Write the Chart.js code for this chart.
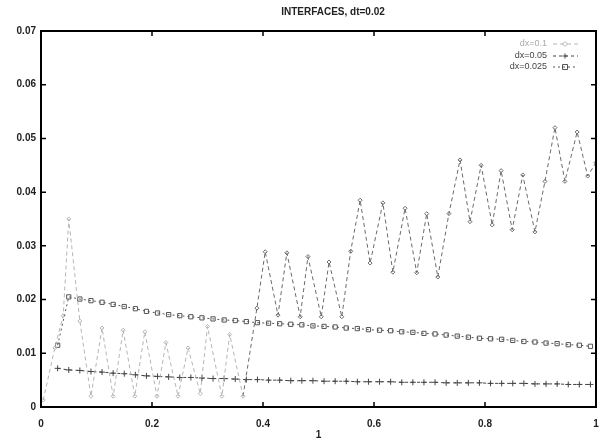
<!DOCTYPE html>
<html lang="en">
<head>
  <meta charset="UTF-8" />
  <title>INTERFACES, dt=0.02</title>
  <script src="https://cdn.jsdelivr.net/npm/chart.js"></script>
</head>
<body style="margin: 0; padding: 0; background: #fff;">
  <canvas id="chart" width="601" height="441" style="display: block;"></canvas>

  <script>
    // data
    const seriesNames = ['dx=0.1', 'dx=0.05', 'dx=0.025'];

    // dx=0.1 : irregular sawtooth, own x positions
    const coarseX = [0.004, 0.025, 0.04, 0.05, 0.07, 0.09, 0.11, 0.13, 0.148, 0.169, 0.187, 0.209, 0.225, 0.247, 0.265, 0.287, 0.30, 0.326, 0.34, 0.364,
      0.389, 0.404, 0.427, 0.443, 0.467, 0.481, 0.505, 0.519, 0.542, 0.558,
      0.575, 0.593, 0.616, 0.634, 0.656, 0.677, 0.695, 0.715, 0.735,
      0.755, 0.773, 0.793, 0.813, 0.829, 0.849, 0.868, 0.89, 0.908,
      0.926, 0.944, 0.966, 0.985, 1.0];
    const coarseY = [0.0013, 0.011, 0.017, 0.035, 0.016, 0.002, 0.0147, 0.002, 0.0143, 0.002, 0.014, 0.002, 0.012, 0.002, 0.011, 0.0025, 0.015, 0.002, 0.0135, 0.002,
      0.0184, 0.0289, 0.0171, 0.0287, 0.0168, 0.028, 0.0168, 0.027, 0.0168, 0.029,
      0.0385, 0.0268, 0.038, 0.0251, 0.037, 0.025, 0.036, 0.0242, 0.036,
      0.046, 0.0345, 0.045, 0.0339, 0.044, 0.033, 0.0432, 0.0326, 0.042,
      0.052, 0.042, 0.0512, 0.043, 0.0455];

    // dx=0.05 and dx=0.025 share these x positions
    const fineX = [0.03, 0.05, 0.07, 0.09, 0.11, 0.13, 0.15, 0.17, 0.19, 0.21, 0.23, 0.25, 0.27, 0.29, 0.31, 0.33, 0.35, 0.37, 0.39, 0.41,
      0.43, 0.45, 0.47, 0.49, 0.51, 0.53, 0.55, 0.57, 0.59, 0.61, 0.63, 0.65, 0.67, 0.69, 0.71, 0.73, 0.75, 0.77, 0.79, 0.81,
      0.83, 0.85, 0.87, 0.89, 0.91, 0.93, 0.95, 0.97, 0.99];
    const midY = [0.0072, 0.0069, 0.0068, 0.0066, 0.0065, 0.0063, 0.0062, 0.0060, 0.0058, 0.0057, 0.0056, 0.0055, 0.0055, 0.0054, 0.0053, 0.0053, 0.0052, 0.0051, 0.0051, 0.0050,
      0.0050, 0.0049, 0.0049, 0.0049, 0.0048, 0.0048, 0.0048, 0.0047, 0.0047, 0.0047, 0.0047, 0.0046, 0.0046, 0.0046, 0.0046, 0.0045, 0.0045, 0.0045, 0.0045, 0.0044,
      0.0044, 0.0044, 0.0044, 0.0043, 0.0043, 0.0043, 0.0042, 0.0042, 0.0042];
    const fineY = [0.0115, 0.0205, 0.0201, 0.0198, 0.0195, 0.0191, 0.0187, 0.0183, 0.0178, 0.0175, 0.0172, 0.0170, 0.0168, 0.0166, 0.0164, 0.0162, 0.0161, 0.0159, 0.0157, 0.0156,
      0.0155, 0.0154, 0.0153, 0.0151, 0.0150, 0.0149, 0.0147, 0.0146, 0.0144, 0.0143, 0.0142, 0.0140, 0.0139, 0.0137, 0.0136, 0.0134, 0.0132, 0.0130, 0.0128, 0.0127,
      0.0126, 0.0124, 0.0122, 0.0121, 0.0119, 0.0118, 0.0116, 0.0115, 0.0113];

    const xTickLabels = ['0', '0.2', '0.4', '0.6', '0.8', '1'];
    const yTickLabels = ['0', '0.01', '0.02', '0.03', '0.04', '0.05', '0.06', '0.07'];

    const pts = (xs, ys) => xs.map((x, i) => ({ x: x, y: ys[i] }));

    const styles = [
      { color: '#6a6a6a', dash: [4, 3], point: 'rectRot', radius: 2 },
      { color: '#444', dash: [3, 3], point: 'cross', radius: 3 },
      { color: '#555', dash: [2, 3], point: 'rect', radius: 3 }
    ];
    // the early part of the coarse curve is very faint in the scan
    const faint = '#b5b5b5';

    // gnuplot-ish frame, inward ticks, title and key
    const gnuplotFrame = {
      id: 'gnuplotFrame',
      afterDatasetsDraw(chart) {
        const ctx = chart.ctx;
        const a = chart.chartArea;
        const xs = chart.scales.x, ys = chart.scales.y;
        ctx.save();
        ctx.strokeStyle = '#000';
        ctx.lineWidth = 1.5;
        ctx.beginPath();
        xs.ticks.forEach(t => {
          const px = xs.getPixelForValue(t.value);
          ctx.moveTo(px, a.bottom); ctx.lineTo(px, a.bottom - 5);
          ctx.moveTo(px, a.top); ctx.lineTo(px, a.top + 5);
        });
        ys.ticks.forEach(t => {
          const py = ys.getPixelForValue(t.value);
          ctx.moveTo(a.left, py); ctx.lineTo(a.left + 5, py);
          ctx.moveTo(a.right, py); ctx.lineTo(a.right - 5, py);
        });
        ctx.stroke();
        ctx.lineWidth = 2;
        ctx.strokeRect(a.left, a.top, a.right - a.left, a.bottom - a.top);

        ctx.fillStyle = '#222';
        ctx.font = 'bold 10px "Liberation Sans", Arial, sans-serif';
        ctx.textAlign = 'center';
        ctx.textBaseline = 'middle';
        ctx.fillText('INTERFACES, dt=0.02', 333, 12);

        // key
        ctx.font = '9px "Liberation Sans", Arial, sans-serif';
        ctx.textAlign = 'right';
        const rows = [44, 56, 67];
        chart.data.datasets.forEach((ds, i) => {
          const y = rows[i];
          const col = i === 0 ? faint : styles[i].color;
          ctx.fillStyle = i === 0 ? '#aaa' : '#444';
          ctx.fillText(ds.label, 547, y);
          ctx.strokeStyle = col;
          ctx.lineWidth = 1;
          ctx.setLineDash(ds.borderDash);
          ctx.beginPath();
          ctx.moveTo(553, y); ctx.lineTo(578, y);
          ctx.stroke();
          ctx.setLineDash([]);
          const cx = 565, r = 2.5;
          ctx.beginPath();
          if (ds.pointStyle === 'cross') {
            ctx.moveTo(cx - r, y); ctx.lineTo(cx + r, y);
            ctx.moveTo(cx, y - r); ctx.lineTo(cx, y + r);
          } else if (ds.pointStyle === 'rect') {
            ctx.rect(cx - r, y - r, 2 * r, 2 * r);
          } else {
            ctx.moveTo(cx, y - r); ctx.lineTo(cx + r, y); ctx.lineTo(cx, y + r); ctx.lineTo(cx - r, y); ctx.closePath();
          }
          ctx.stroke();
        });
        ctx.restore();
      }
    };

    const series = [pts(coarseX, coarseY), pts(fineX, midY), pts(fineX, fineY)];

    new Chart(document.getElementById('chart').getContext('2d'), {
      type: 'scatter',
      data: {
        datasets: series.map((d, i) => ({
          label: seriesNames[i],
          data: d,
          showLine: true,
          borderColor: styles[i].color,
          borderWidth: 1,
          borderDash: styles[i].dash,
          segment: i === 0 ? {
            borderColor: c => (c.p1.parsed.x < 0.38 ? faint : undefined)
          } : undefined,
          pointStyle: styles[i].point,
          pointRadius: styles[i].radius,
          pointBorderColor: i === 0
            ? (c => (c.parsed && c.parsed.x < 0.38 ? faint : styles[0].color))
            : styles[i].color,
          pointBackgroundColor: 'rgba(0,0,0,0)',
          pointBorderWidth: 1,
          tension: 0
        }))
      },
      options: {
        responsive: false,
        animation: false,
        layout: { padding: { top: 31, right: 5, left: 0, bottom: 0 } },
        plugins: {
          legend: { display: false },
          tooltip: { enabled: false }
        },
        scales: {
          x: {
            type: 'linear',
            min: 0, max: 1,
            afterFit: s => { s.height = 34; s.paddingLeft = 0; s.paddingRight = 0; },
            grid: { display: false, drawTicks: false },
            border: { display: false },
            ticks: {
              stepSize: 0.2,
              padding: 11,
              color: '#222',
              font: { family: '"Liberation Sans", Arial, sans-serif', size: 10, weight: 'bold' },
              maxRotation: 0,
              callback: (v, i) => xTickLabels[i]
            },
            title: {
              display: true,
              text: '1',
              color: '#222',
              padding: { top: 3, bottom: 0 },
              font: { family: '"Liberation Sans", Arial, sans-serif', size: 10, weight: 'bold' }
            }
          },
          y: {
            type: 'linear',
            min: 0, max: 0.07,
            afterFit: s => { s.width = 41; s.paddingTop = 0; s.paddingBottom = 0; },
            grid: { display: false, drawTicks: false },
            border: { display: false },
            ticks: {
              stepSize: 0.01,
              padding: 5,
              color: '#222',
              font: { family: '"Liberation Sans", Arial, sans-serif', size: 10, weight: 'bold' },
              callback: (v, i) => yTickLabels[i]
            }
          }
        }
      },
      plugins: [gnuplotFrame]
    });
  </script>
</body>
</html>
